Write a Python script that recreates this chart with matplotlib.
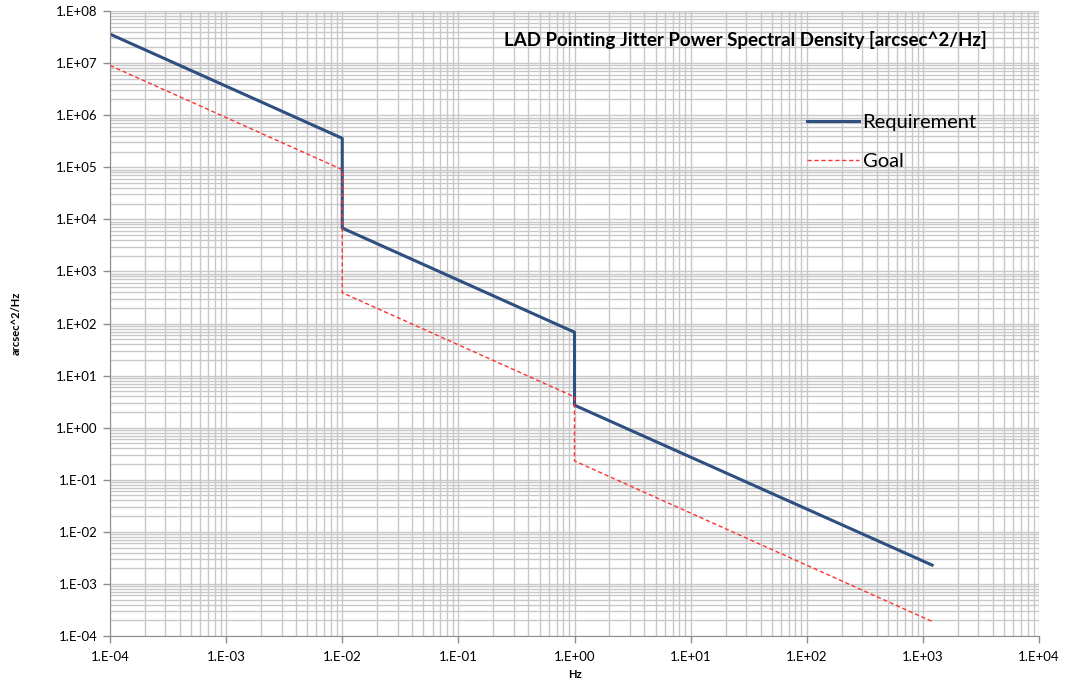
import matplotlib
matplotlib.use("Agg")
import matplotlib.pyplot as plt
from matplotlib.ticker import LogLocator, FixedLocator, FuncFormatter, NullFormatter

# Data
req_freq = [1e-4, 1e-2, 1e-2, 1.0, 1.0, 1.2e3]
req_psd = [3.6e7, 3.6e5, 6.8e3, 68.0, 2.7, 2.3e-3]
goal_freq = [1e-4, 1e-2, 1e-2, 1.0, 1.0, 1.2e3]
goal_psd = [9.0e6, 9.0e4, 3.9e2, 3.9, 0.23, 1.9e-4]

x_ticks = [1e-4, 1e-3, 1e-2, 1e-1, 1e0, 1e1, 1e2, 1e3, 1e4]
y_ticks = [1e-4, 1e-3, 1e-2, 1e-1, 1e0, 1e1, 1e2, 1e3, 1e4, 1e5, 1e6, 1e7, 1e8]

title = "LAD Pointing Jitter Power Spectral Density [arcsec^2/Hz]"
xlabel = "Hz"
ylabel = "arcsec^2/Hz"

plt.rcParams['font.family'] = ['Lato', 'DejaVu Sans']

fig = plt.figure(figsize=(10.7, 6.81), dpi=100)
ax = fig.add_axes([110/1070, 1-636/681, (1039-110)/1070, (636-11)/681])

ax.plot(req_freq, req_psd, color='#2e4f80', lw=2.2, label='Requirement')
ax.plot(goal_freq, goal_psd, color='#ff3030', lw=1.0, ls=(0, (3, 2)), label='Goal')

ax.set_xscale('log')
ax.set_yscale('log')
ax.set_xlim(x_ticks[0], x_ticks[-1])
ax.set_ylim(y_ticks[0], y_ticks[-1])

def sci(v, pos):
    import math
    e = int(round(math.log10(v)))
    return "1.E%s%02d" % ('+' if e >= 0 else '-', abs(e))

for axis, ticks in ((ax.xaxis, x_ticks), (ax.yaxis, y_ticks)):
    axis.set_major_locator(FixedLocator(ticks))
    axis.set_minor_locator(LogLocator(base=10, subs=range(2, 10), numticks=200))
    axis.set_major_formatter(FuncFormatter(sci))
    axis.set_minor_formatter(NullFormatter())

ax.grid(True, which='both', color='#c8c8c8', lw=1.0)
ax.set_axisbelow(True)
ax.tick_params(which='minor', length=0)
ax.tick_params(which='major', length=5, width=1, color='#8c8c8c', labelsize=9.5, pad=4)
for s in ('top', 'right'):
    ax.spines[s].set_visible(False)
for s in ('left', 'bottom'):
    ax.spines[s].set_color('#8c8c8c')
ax.tick_params(axis='x', pad=6)

ax.set_xlabel(xlabel, fontsize=8, fontweight='bold')
ax.set_ylabel(ylabel, fontsize=8, fontweight='bold')
ax.xaxis.set_label_coords(0.5, (636-674)/625)
ax.yaxis.set_label_coords((16-110)/929, 0.5)
ax.xaxis.label.set_va('center')
ax.yaxis.label.set_va('center')

fig.text(745/1070, 1-40/681, title, fontsize=13.5, fontweight='bold', ha='center', va='center')

leg = ax.legend(loc='upper left', bbox_to_anchor=(789/1070, 1-96/681), bbox_transform=fig.transFigure,
                frameon=False, fontsize=14.5, handlelength=2.6, handletextpad=0.15, labelspacing=1.1)

fig.savefig('out.png', dpi=100)
